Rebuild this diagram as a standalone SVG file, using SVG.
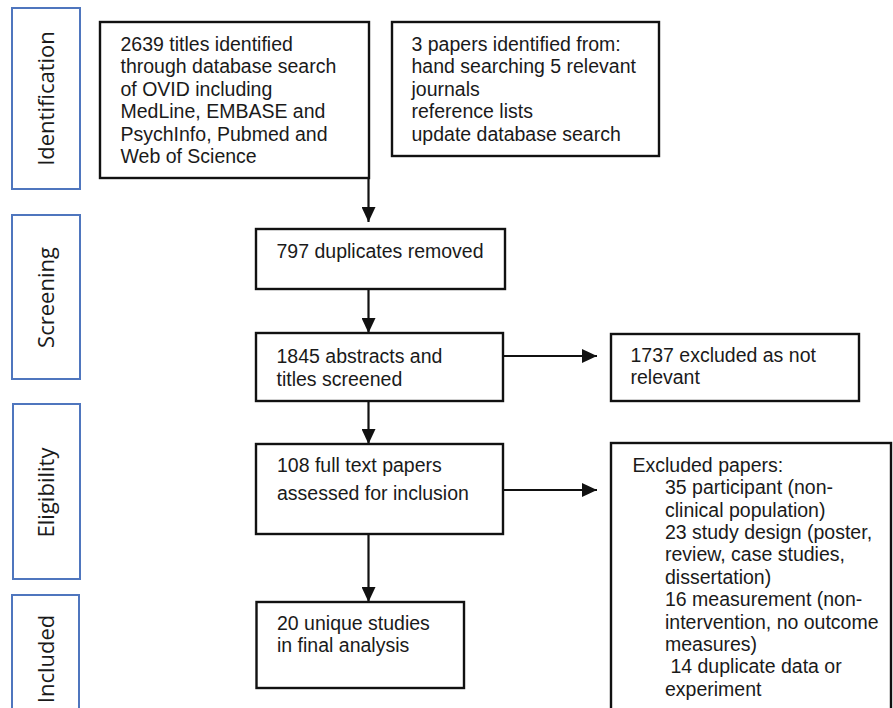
<svg xmlns="http://www.w3.org/2000/svg" width="893" height="708" viewBox="0 0 893 708">
  <style>
    .phase { fill: #ffffff; stroke: #4f76be; stroke-width: 2; }
    .phase-label { font-family: "Open Sans", "Noto Sans", sans-serif; font-size: 22px; fill: #1a1a1a; text-anchor: middle; }
    .box { fill: #ffffff; stroke: #111111; stroke-width: 2.4; }
    .txt { font-family: "Liberation Sans", Arial, sans-serif; font-size: 19.5px; fill: #1a1a1a; }
    .conn { stroke: #111111; stroke-width: 2.2; fill: none; marker-end: url(#arrow); }
  </style>
  <defs>
    <marker id="arrow" markerUnits="userSpaceOnUse" markerWidth="15" markerHeight="14" refX="15" refY="7" orient="auto">
      <path d="M0,0 L15,7 L0,14 Z" fill="#111111"/>
    </marker>
  </defs>
  <rect width="893" height="708" fill="#ffffff"/>

  <!-- Phase labels on the left -->
  <g id="phase-identification">
    <rect class="phase" x="12" y="8" width="68" height="181"/>
    <text class="phase-label" transform="translate(54,98.5) rotate(-90)">Identification</text>
  </g>
  <g id="phase-screening">
    <rect class="phase" x="12" y="215" width="68" height="164"/>
    <text class="phase-label" transform="translate(54,297.5) rotate(-90)">Screening</text>
  </g>
  <g id="phase-eligibility">
    <rect class="phase" x="13" y="404" width="67" height="175"/>
    <text class="phase-label" transform="translate(54,492.5) rotate(-90)">Eligibility</text>
  </g>
  <g id="phase-included">
    <rect class="phase" x="12" y="595" width="67" height="130"/>
    <text class="phase-label" transform="translate(54,659) rotate(-90)">Included</text>
  </g>

  <!-- Connectors -->
  <g id="connectors">
    <path class="conn" d="M368.5,178 V222"/>
    <path class="conn" d="M368.5,289 V333"/>
    <path class="conn" d="M503,356 H597"/>
    <path class="conn" d="M368.5,401 V444"/>
    <path class="conn" d="M503,490 H597"/>
    <path class="conn" d="M368.5,534 V602"/>
  </g>

  <!-- Flow boxes -->
  <g id="database-search">
    <rect class="box" x="100" y="22" width="269" height="156"/>
    <text class="txt" x="120.5" y="50.7">2639 titles identified</text>
    <text class="txt" x="120.5" y="73.2">through database search</text>
    <text class="txt" x="120.5" y="95.7">of OVID including</text>
    <text class="txt" x="120.5" y="118.2">MedLine, EMBASE and</text>
    <text class="txt" x="120.5" y="140.7">PsychInfo, Pubmed and</text>
    <text class="txt" x="120.5" y="163.2">Web of Science</text>
  </g>
  <g id="other-sources">
    <rect class="box" x="392" y="22" width="267" height="134"/>
    <text class="txt" x="411.5" y="50.7">3 papers identified from:</text>
    <text class="txt" x="411.5" y="73.2">hand searching 5 relevant</text>
    <text class="txt" x="411.5" y="95.7">journals</text>
    <text class="txt" x="411.5" y="118.2">reference lists</text>
    <text class="txt" x="411.5" y="140.7">update database search</text>
  </g>
  <g id="duplicates-removed">
    <rect class="box" x="256" y="229" width="249" height="60"/>
    <text class="txt" x="276.5" y="257.5">797 duplicates removed</text>
  </g>
  <g id="screened">
    <rect class="box" x="256" y="333" width="247" height="68"/>
    <text class="txt" x="276.5" y="363.3">1845 abstracts and</text>
    <text class="txt" x="276.5" y="385.5">titles screened</text>
  </g>
  <g id="excluded-not-relevant">
    <rect class="box" x="611" y="334" width="248" height="67"/>
    <text class="txt" x="630.5" y="361.7">1737 excluded as not</text>
    <text class="txt" x="630.5" y="384">relevant</text>
  </g>
  <g id="full-text">
    <rect class="box" x="256" y="444" width="247" height="90"/>
    <text class="txt" x="277" y="472.3">108 full text papers</text>
    <text class="txt" x="277" y="500">assessed for inclusion</text>
  </g>
  <g id="final-analysis">
    <rect class="box" x="256.5" y="602" width="207.5" height="86"/>
    <text class="txt" x="277" y="630">20 unique studies</text>
    <text class="txt" x="277" y="652">in final analysis</text>
  </g>
  <g id="excluded-papers">
    <rect class="box" x="611" y="443" width="280" height="290"/>
    <text class="txt" x="632.5" y="471.7">Excluded papers:</text>
    <text class="txt" x="665" y="494.1">35 participant (non-</text>
    <text class="txt" x="665" y="516.5">clinical population)</text>
    <text class="txt" x="665" y="538.9">23 study design (poster,</text>
    <text class="txt" x="665" y="561.3">review, case studies,</text>
    <text class="txt" x="665" y="583.7">dissertation)</text>
    <text class="txt" x="665" y="606.1">16 measurement (non-</text>
    <text class="txt" x="665" y="628.5">intervention, no outcome</text>
    <text class="txt" x="665" y="650.9">measures)</text>
    <text class="txt" x="665" y="673.3" xml:space="preserve"> 14 duplicate data or</text>
    <text class="txt" x="665" y="695.7">experiment</text>
  </g>
</svg>
